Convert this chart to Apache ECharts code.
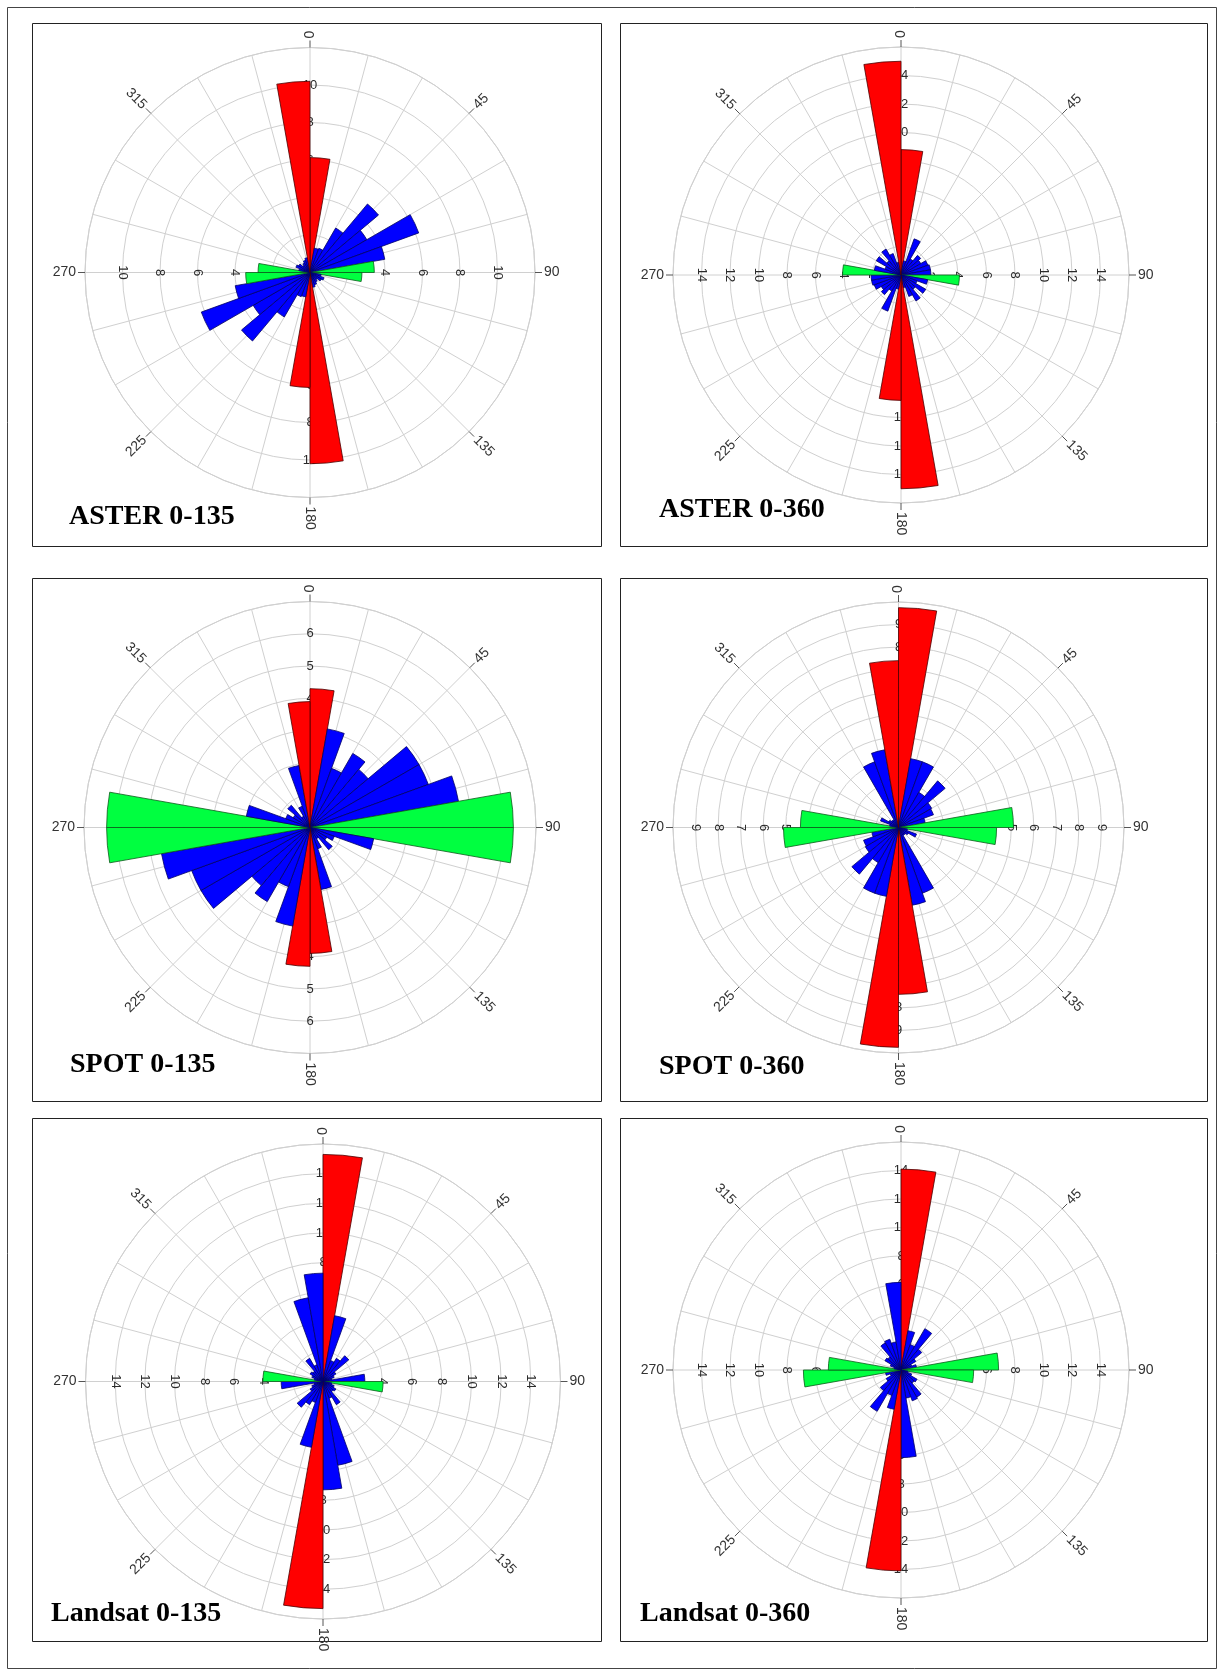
<!DOCTYPE html>
<html>
<head>
<meta charset="utf-8">
<title>Rose diagrams</title>
<script src="https://cdn.jsdelivr.net/npm/echarts@6.0.0/dist/echarts.min.js"></script>
<style>
  html, body { margin: 0; padding: 0; background: #fff; }
  #main { width: 1220px; height: 1673px; }
</style>
</head>
<body>
<div id="main"></div>
<script>
// 10 degree bins, clockwise from north
const bins = ['0-10', '10-20', '20-30', '30-40', '40-50', '50-60', '60-70', '70-80', '80-90',
  '90-100', '100-110', '110-120', '120-130', '130-140', '140-150', '150-160', '160-170', '170-180',
  '180-190', '190-200', '200-210', '210-220', '220-230', '230-240', '240-250', '250-260', '260-270',
  '270-280', '280-290', '290-300', '300-310', '310-320', '320-330', '330-340', '340-350', '350-360'];

const angleTicks = [0, 45, 90, 135, 180, 225, 270, 315];

// lengths for the 0-180 bins, the rose is bidirectional so 180-360 repeats them
// r = N-S class, g = E-W class, b = the rest
const asterA = [6.13, 1.32, 1.37, 2.74, 4.77, 3.5, 6.17, 4.05, 3.43, 2.77, 0.6, 0.8, 0.7, 0.5, 0.6, 0.7, 0.8, 10.2];
const asterACls = ['r', 'b', 'b', 'b', 'b', 'b', 'b', 'b', 'g', 'g', 'b', 'b', 'b', 'b', 'b', 'b', 'b', 'r'];
const asterARings = [2, 4, 6, 8, 10];

const asterB = [8.8, 1.0, 2.7, 1.3, 1.8, 1.6, 2.0, 2.1, 2.1, 4.1, 1.9, 1.2, 2.0, 1.3, 2.1, 1.6, 0.9, 15.0];
const asterBCls = ['r', 'b', 'b', 'b', 'b', 'b', 'b', 'b', 'b', 'g', 'b', 'b', 'b', 'b', 'b', 'b', 'b', 'r'];
const asterBRings = [2, 4, 6, 8, 10, 12, 14];

const spotA = [4.3, 3.1, 1.95, 2.65, 2.35, 3.9, 3.9, 4.67, 6.3, 6.3, 2.0, 0.8, 0.6, 0.9, 0.4, 0.7, 1.95, 3.9];
const spotACls = ['r', 'b', 'b', 'b', 'b', 'b', 'b', 'b', 'g', 'g', 'b', 'b', 'b', 'b', 'b', 'b', 'b', 'r'];
const spotARings = [1, 2, 3, 4, 5, 6];

const spotB = [9.75, 3.1, 3.1, 1.8, 2.7, 1.7, 1.65, 1.2, 5.1, 4.35, 0.4, 0.85, 0.5, 0.4, 0.4, 3.1, 3.5, 7.4];
const spotBCls = ['r', 'b', 'b', 'b', 'b', 'b', 'b', 'b', 'g', 'g', 'b', 'b', 'b', 'b', 'b', 'b', 'b', 'r'];
const spotBRings = [1, 2, 3, 4, 5, 6, 7, 8, 9];

const landsatA = [15.3, 4.5, 1.5, 1.8, 2.27, 1.0, 0.8, 0.6, 2.82, 4.05, 0.6, 0.8, 1.0, 0.9, 1.8, 1.2, 5.73, 7.3];
const landsatACls = ['r', 'b', 'b', 'b', 'b', 'b', 'b', 'b', 'b', 'g', 'b', 'b', 'b', 'b', 'b', 'b', 'b', 'b'];
const landsatARings = [2, 4, 6, 8, 10, 12, 14];

const landsatB = [14.1, 2.8, 1.9, 3.35, 1.9, 1.2, 0.8, 1.1, 6.85, 5.1, 0.5, 0.8, 1.3, 1.2, 2.2, 2.3, 2.0, 6.15];
const landsatBCls = ['r', 'b', 'b', 'b', 'b', 'b', 'b', 'b', 'g', 'g', 'b', 'b', 'b', 'b', 'b', 'b', 'b', 'b'];
const landsatBRings = [2, 4, 6, 8, 10, 12, 14];

const fills = { r: '#ff0000', b: '#0000ff', g: '#00ff40' };
const edges = { r: '#4a0000', b: '#000066', g: '#0b5a1a' };

// layout of the six panels
const panels = [
  { title: 'ASTER 0-135', vals: asterA, cls: asterACls, rings: asterARings, max: 12, step: 2,
    center: [310, 272.5], radius: 225, box: [32.5, 23.5, 569, 523], tx: 69, ty: 525 },
  { title: 'ASTER 0-360', vals: asterB, cls: asterBCls, rings: asterBRings, max: 16, step: 2,
    center: [901, 275], radius: 228, box: [620.5, 23.5, 587, 523], tx: 659, ty: 518 },
  { title: 'SPOT 0-135', vals: spotA, cls: spotACls, rings: spotARings, max: 7, step: 1,
    center: [310, 827.5], radius: 226, box: [32.5, 578.5, 569, 523], tx: 70, ty: 1073 },
  { title: 'SPOT 0-360', vals: spotB, cls: spotBCls, rings: spotBRings, max: 10, step: 1,
    center: [898.5, 827.5], radius: 225.5, box: [620.5, 578.5, 587, 523], tx: 659, ty: 1075 },
  { title: 'Landsat 0-135', vals: landsatA, cls: landsatACls, rings: landsatARings, max: 16, step: 2,
    center: [323, 1381.5], radius: 237.5, box: [32.5, 1118.5, 569, 523], tx: 51, ty: 1622 },
  { title: 'Landsat 0-360', vals: landsatB, cls: landsatBCls, rings: landsatBRings, max: 16, step: 2,
    center: [901, 1370], radius: 228, box: [620.5, 1118.5, 587, 523], tx: 640, ty: 1622 }
];

const gridColor = '#d0d0d0';

function roseData(vals, cls) {
  const v = vals.concat(vals);
  const c = cls.concat(cls);
  return v.map((x, i) => ({
    value: x,
    itemStyle: { color: fills[c[i]], borderColor: edges[c[i]] }
  }));
}

// 0 / 45 / 90 ... outside the outer circle, with a small tick
function angleLabel(params, api) {
  const a = api.value(1);
  const p = api.coord([api.value(0), a]);
  const c = api.coord([0, a]);
  const dx = p[0] - c[0], dy = p[1] - c[1];
  const len = Math.sqrt(dx * dx + dy * dy);
  const ux = dx / len, uy = dy / len;
  const rot = a <= 180 ? a - 90 : a - 270;
  return {
    type: 'group',
    children: [{
      type: 'line',
      shape: { x1: p[0], y1: p[1], x2: p[0] + ux * 7, y2: p[1] + uy * 7 },
      style: { stroke: '#555', lineWidth: 1 }
    }, {
      type: 'text',
      x: p[0] + ux * 9,
      y: p[1] + uy * 9,
      rotation: -rot * Math.PI / 180,
      style: {
        text: String(a),
        font: '14px "Liberation Sans"',
        fill: '#333',
        align: a <= 180 ? 'left' : 'right',
        verticalAlign: 'middle'
      }
    }]
  };
}

// ring values written on the four main axes
function ringLabel(params, api) {
  const a = api.value(1);
  const p = api.coord([api.value(0), a]);
  const side = (a === 90 || a === 270);
  return {
    type: 'text',
    x: p[0],
    y: p[1],
    rotation: side ? -Math.PI / 2 : 0,
    style: {
      text: String(api.value(0)),
      font: '13px "Liberation Sans"',
      fill: '#2a2a2a',
      align: 'center',
      verticalAlign: 'middle'
    }
  };
}

const polar = [], angleAxis = [], radiusAxis = [], series = [];
const graphic = [{
  type: 'rect', shape: { x: 7.5, y: 7.5, width: 1209, height: 1661 },
  style: { fill: 'none', stroke: '#444', lineWidth: 1 }, z: 0
}];

panels.forEach((pn, k) => {
  const g = 2 * k, b = 2 * k + 1;
  // grid polar: 15 degree spokes and rings
  polar.push({ center: pn.center, radius: pn.radius });
  angleAxis.push({
    polarIndex: g, type: 'value', min: 0, max: 360, interval: 15,
    startAngle: 90, clockwise: true,
    axisLine: { show: true, lineStyle: { color: gridColor, width: 1 } },
    axisTick: { show: false }, axisLabel: { show: false },
    splitLine: { show: true, lineStyle: { color: gridColor, width: 1 } }
  });
  radiusAxis.push({
    polarIndex: g, type: 'value', min: 0, max: pn.max, interval: pn.step,
    axisLine: { show: false }, axisTick: { show: false }, axisLabel: { show: false },
    splitLine: { show: true, lineStyle: { color: gridColor, width: 1 } }
  });
  // bar polar: 36 bins
  polar.push({ center: pn.center, radius: pn.radius });
  angleAxis.push({
    polarIndex: b, type: 'category', data: bins, startAngle: 90, clockwise: true,
    axisLine: { show: false }, axisTick: { show: false }, axisLabel: { show: false },
    splitLine: { show: false }
  });
  radiusAxis.push({
    polarIndex: b, type: 'value', min: 0, max: pn.max,
    axisLine: { show: false }, axisTick: { show: false }, axisLabel: { show: false },
    splitLine: { show: false }
  });

  series.push({
    type: 'custom', coordinateSystem: 'polar', polarIndex: g, z: 1, silent: true,
    renderItem: angleLabel,
    data: angleTicks.map(a => [pn.max, a])
  });
  series.push({
    type: 'custom', coordinateSystem: 'polar', polarIndex: g, z: 1, silent: true,
    renderItem: ringLabel,
    data: pn.rings.flatMap(v => [[v, 0], [v, 90], [v, 180], [v, 270]])
  });
  series.push({
    type: 'bar', coordinateSystem: 'polar', polarIndex: b, z: 3,
    barCategoryGap: '0%',
    itemStyle: { borderWidth: 0.8 },
    data: roseData(pn.vals, pn.cls)
  });

  graphic.push({
    type: 'rect', shape: { x: pn.box[0], y: pn.box[1], width: pn.box[2], height: pn.box[3] },
    style: { fill: 'none', stroke: '#222', lineWidth: 1 }, z: 0
  });
  graphic.push({
    type: 'text', x: pn.tx, y: pn.ty + 6, z: 10,
    style: {
      text: pn.title, font: 'bold 28px "Liberation Serif"', fill: '#000',
      align: 'left', verticalAlign: 'bottom'
    }
  });
});

const chart = echarts.init(document.getElementById('main'));
chart.setOption({
  animation: false,
  backgroundColor: '#fff',
  polar: polar,
  angleAxis: angleAxis,
  radiusAxis: radiusAxis,
  graphic: graphic,
  series: series
});
</script>
</body>
</html>
